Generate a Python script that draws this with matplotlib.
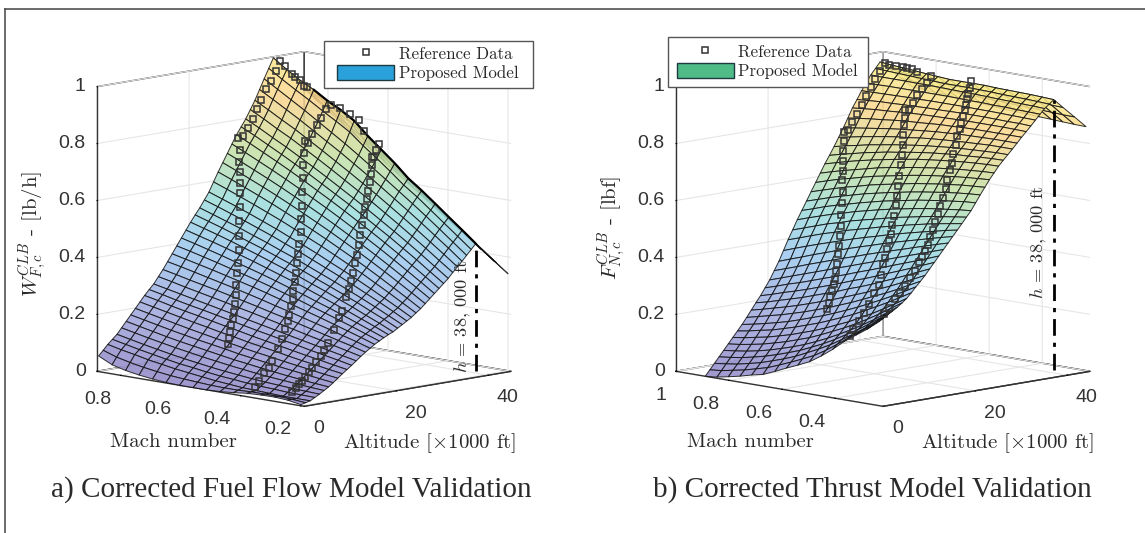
import numpy as np
import matplotlib
matplotlib.use("Agg")
import matplotlib.pyplot as plt
from matplotlib.colors import LinearSegmentedColormap
from matplotlib.lines import Line2D
from matplotlib.patches import Patch, Rectangle

plt.rcParams["mathtext.fontset"] = "cm"
plt.rcParams["font.family"] = ["Liberation Sans", "DejaVu Sans"]

W, H = 1145, 533

# 1) surface grids, shared altitude axis [x1000 ft]
alt_grid = [0, 1, 2, 3, 4, 5, 6, 7, 8, 9, 10, 11, 12, 13, 14, 15, 16, 17, 18, 19, 20,
            21, 22, 23, 24, 25, 26, 27, 28, 29, 30, 31, 32, 33, 34, 35, 36, 37, 38, 40, 42.5, 45]

# fuel flow surface: one row per altitude, one column per Mach
mach_a = [.2, .245, .29, .335, .38, .425, .47, .515, .56, .605, .65, .695, .74, .785, .83, .875]
fuel = [
    [.004, .012, .015, .014, .012, .006, .002, 0, 0, 0, .002, .006, .012, .02, .032, .055],
    [.008, .012, .014, .014, .014, .012, .012, .013, .016, .019, .023, .029, .036, .045, .056, .072],
    [.012, .012, .012, .014, .016, .018, .022, .026, .032, .038, .044, .052, .060, .070, .079, .090],
    [.021, .022, .023, .026, .028, .031, .036, .040, .046, .053, .059, .067, .076, .085, .095, .105],
    [.030, .032, .034, .037, .040, .044, .049, .054, .060, .067, .074, .082, .091, .100, .110, .120],
    [.040, .043, .047, .051, .055, .060, .066, .072, .079, .086, .094, .102, .111, .120, .130, .140],
    [.050, .054, .059, .064, .070, .076, .083, .089, .097, .105, .113, .121, .130, .140, .150, .160],
    [.062, .068, .074, .080, .086, .093, .100, .107, .116, .124, .132, .141, .150, .160, .170, .180],
    [.075, .081, .088, .095, .102, .110, .117, .125, .134, .142, .151, .160, .170, .180, .190, .200],
    [.088, .095, .103, .110, .118, .127, .135, .143, .153, .161, .171, .180, .190, .200, .210, .220],
    [.100, .108, .117, .125, .134, .143, .152, .161, .171, .180, .190, .200, .209, .219, .230, .240],
    [.112, .122, .131, .140, .150, .159, .169, .178, .188, .198, .208, .218, .227, .237, .248, .258],
    [.125, .135, .145, .155, .165, .175, .185, .195, .205, .215, .225, .235, .245, .255, .265, .275],
    [.138, .149, .160, .171, .182, .193, .204, .215, .226, .236, .247, .257, .267, .277, .288, .298],
    [.150, .163, .175, .187, .199, .211, .223, .234, .246, .257, .268, .279, .289, .299, .310, .320],
    [.161, .176, .189, .203, .216, .229, .242, .254, .267, .279, .291, .302, .313, .324, .335, .345],
    [.172, .188, .203, .218, .233, .247, .261, .274, .288, .301, .313, .325, .337, .348, .359, .370],
    [.181, .198, .215, .231, .247, .262, .278, .292, .307, .321, .334, .347, .360, .372, .384, .395],
    [.190, .208, .226, .244, .261, .277, .294, .309, .325, .340, .354, .368, .382, .395, .408, .420],
    [.198, .218, .237, .256, .274, .292, .310, .327, .343, .359, .375, .390, .405, .419, .432, .445],
    [.205, .227, .247, .268, .287, .307, .325, .344, .361, .378, .395, .411, .427, .442, .456, .470],
    [.215, .238, .259, .281, .301, .321, .340, .360, .378, .396, .414, .430, .447, .463, .478, .493],
    [.225, .248, .271, .293, .314, .335, .355, .375, .395, .413, .432, .449, .467, .483, .499, .515],
    [.235, .260, .284, .307, .330, .352, .373, .394, .415, .434, .454, .472, .490, .507, .524, .540],
    [.245, .271, .296, .321, .345, .368, .390, .413, .434, .454, .475, .494, .513, .531, .548, .565],
    [.258, .285, .312, .338, .364, .388, .412, .436, .458, .480, .502, .522, .542, .561, .580, .598],
    [.270, .299, .327, .355, .382, .408, .433, .458, .482, .505, .528, .550, .571, .591, .611, .630],
    [.285, .315, .344, .373, .401, .428, .454, .480, .505, .529, .553, .576, .598, .619, .640, .660],
    [.300, .331, .361, .391, .420, .448, .475, .502, .528, .553, .578, .602, .625, .647, .669, .690],
    [.315, .347, .378, .409, .439, .468, .496, .524, .551, .577, .603, .628, .652, .675, .698, .720],
    [.330, .363, .395, .427, .458, .488, .517, .546, .574, .601, .628, .654, .679, .703, .727, .750],
    [.345, .378, .412, .444, .476, .506, .536, .566, .594, .622, .650, .676, .702, .727, .752, .775],
    [.360, .394, .428, .461, .493, .524, .555, .585, .614, .643, .671, .698, .725, .750, .776, .800],
    [.378, .412, .447, .481, .514, .546, .578, .608, .638, .668, .697, .725, .753, .778, .805, .830],
    [.395, .431, .466, .501, .535, .568, .601, .632, .663, .693, .723, .752, .781, .807, .834, .860],
    [.412, .450, .486, .522, .557, .591, .625, .658, .690, .722, .752, .782, .812, .840, .868, .895],
    [.430, .468, .506, .543, .579, .614, .649, .683, .717, .750, .781, .812, .843, .872, .901, .930],
    [.448, .486, .524, .562, .600, .634, .674, .712, .748, .788, .818, .846, .876, .904, .933, .964],
    [.466, .505, .543, .582, .620, .655, .700, .740, .780, .825, .855, .880, .910, .935, .965, .998],
    [.430, .468, .505, .543, .580, .615, .657, .696, .735, .777, .808, .836, .867, .895, .927, .960],
    [.386, .422, .458, .495, .531, .566, .604, .641, .678, .716, .750, .781, .814, .846, .879, .913],
    [.341, .376, .411, .446, .481, .516, .551, .586, .621, .656, .691, .726, .761, .796, .831, .866],
]

# thrust surface
mach_b = [.235, .279, .322, .366, .41, .453, .497, .541, .584, .628, .672, .715, .759, .803, .846, .89]
thrust = [
    [.295, .262, .234, .205, .170, .140, .113, .094, .077, .058, .041, .032, .021, .012, .004, 0],
    [.305, .272, .244, .215, .185, .157, .132, .113, .095, .078, .062, .051, .040, .032, .024, .020],
    [.315, .283, .253, .225, .199, .174, .152, .132, .113, .097, .083, .070, .060, .051, .045, .040],
    [.325, .294, .266, .238, .214, .190, .168, .149, .131, .116, .102, .090, .080, .071, .065, .060],
    [.335, .306, .278, .252, .228, .206, .185, .166, .149, .134, .121, .109, .099, .091, .085, .080],
    [.347, .320, .294, .269, .246, .225, .206, .187, .170, .156, .142, .131, .120, .112, .105, .100],
    [.360, .334, .310, .286, .265, .244, .226, .208, .192, .178, .164, .153, .142, .134, .126, .120],
    [.377, .353, .330, .308, .287, .267, .249, .232, .216, .202, .188, .176, .164, .156, .147, .140],
    [.395, .372, .350, .329, .309, .290, .272, .255, .239, .225, .211, .198, .187, .177, .168, .160],
    [.412, .391, .370, .350, .332, .314, .296, .280, .264, .250, .236, .224, .212, .202, .192, .182],
    [.430, .410, .391, .372, .354, .337, .321, .305, .290, .276, .262, .249, .237, .226, .215, .205],
    [.450, .432, .414, .396, .379, .362, .346, .332, .316, .302, .288, .274, .262, .250, .238, .228],
    [.470, .453, .436, .420, .404, .388, .372, .358, .343, .328, .314, .300, .287, .275, .262, .250],
    [.490, .474, .459, .444, .429, .414, .399, .385, .370, .356, .342, .328, .314, .302, .288, .275],
    [.510, .496, .482, .468, .454, .440, .426, .412, .398, .384, .370, .356, .342, .328, .314, .300],
    [.530, .518, .506, .493, .480, .468, .455, .442, .428, .415, .401, .387, .373, .358, .344, .330],
    [.550, .540, .529, .518, .507, .496, .484, .471, .459, .446, .432, .418, .404, .389, .375, .360],
    [.570, .562, .552, .543, .533, .523, .512, .500, .489, .477, .464, .451, .438, .424, .410, .395],
    [.590, .583, .576, .568, .559, .550, .540, .530, .519, .508, .497, .484, .472, .458, .444, .430],
    [.610, .604, .598, .592, .584, .576, .568, .558, .548, .538, .528, .515, .504, .490, .476, .462],
    [.630, .626, .621, .616, .610, .603, .595, .587, .578, .568, .558, .546, .535, .522, .509, .495],
    [.655, .652, .647, .642, .636, .630, .622, .614, .606, .596, .586, .575, .564, .552, .538, .525],
    [.680, .677, .673, .668, .662, .656, .649, .641, .633, .624, .615, .604, .593, .581, .568, .555],
    [.704, .701, .698, .693, .688, .682, .676, .668, .660, .652, .643, .632, .622, .610, .598, .585],
    [.728, .725, .722, .718, .713, .708, .702, .695, .687, .679, .671, .661, .650, .640, .628, .615],
    [.749, .747, .744, .741, .736, .732, .726, .720, .713, .706, .698, .688, .678, .668, .657, .645],
    [.770, .769, .767, .764, .760, .756, .751, .746, .739, .732, .724, .716, .707, .697, .686, .675],
    [.788, .787, .785, .782, .780, .776, .772, .767, .761, .754, .748, .740, .732, .722, .713, .702],
    [.805, .805, .803, .801, .799, .796, .792, .788, .783, .777, .771, .764, .757, .748, .740, .730],
    [.822, .822, .822, .820, .818, .816, .813, .810, .806, .800, .796, .790, .783, .776, .768, .760],
    [.840, .840, .840, .839, .838, .837, .834, .832, .828, .824, .820, .815, .809, .803, .797, .790],
    [.858, .858, .858, .858, .858, .857, .855, .854, .851, .848, .846, .842, .837, .833, .828, .822],
    [.875, .876, .877, .877, .877, .877, .876, .875, .874, .873, .871, .868, .865, .863, .859, .855],
    [.892, .894, .894, .895, .896, .896, .896, .895, .894, .894, .892, .891, .889, .888, .885, .882],
    [.910, .911, .912, .913, .914, .914, .915, .915, .915, .915, .914, .914, .913, .912, .911, .910],
    [.928, .929, .930, .932, .932, .934, .934, .935, .936, .936, .936, .936, .936, .936, .935, .935],
    [.945, .947, .948, .950, .951, .953, .954, .955, .956, .957, .958, .958, .959, .959, .959, .960],
    [.958, .960, .962, .963, .964, .966, .967, .968, .968, .968, .970, .972, .974, .976, .978, .980],
    [.971, .973, .975, .976, .977, .978, .980, .980, .980, .980, .983, .986, .990, .993, .996, 1.0],
    [.938, .940, .942, .943, .945, .946, .948, .949, .949, .950, .953, .956, .960, .963, .966, .970],
    [.898, .899, .901, .903, .904, .906, .908, .909, .911, .913, .916, .919, .922, .925, .928, .932],
    [.857, .858, .860, .862, .864, .866, .868, .870, .873, .876, .879, .882, .885, .888, .891, .894],
]

# 2) reference data, climb paths (altitude, Mach, value)
fuel_alt1 = [8, 9, 10, 11, 12, 13, 14, 15, 16, 17, 18, 19, 20, 21, 22, 23, 24, 25, 26, 27, 28, 30, 31, 32, 33, 33.9, 35, 36, 37.1, 38]
fuel_mach1 = [.567, .578, .59, .602, .612, .623, .636, .648, .662, .674, .686, .699, .713, .729, .742, .757, .772, .788, .805, .819, .839, .852, .852, .852, .852, .852, .852, .852, .852, .852]
fuel_val1 = [.131, .147, .162, .181, .2, .218, .24, .267, .297, .334, .367, .408, .45, .497, .542, .586, .616, .647, .678, .716, .751, .749, .775, .804, .837, .867, .901, .925, .958, .99]

fuel_alt2 = [3, 4, 5, 6, 7, 8, 9, 10, 11, 12, 13, 14, 15, 16, 17, 18, 19.4, 20.8, 22.2, 23.6, 25, 26.4, 27.8, 29.2, 30.6, 32, 33, 33.9, 34.9, 35.9, 36.9, 38]
fuel_mach2 = [.399, .403, .40, .40, .403, .401, .403, .408, .412, .424, .432, .443, .456, .466, .478, .491, .507, .525, .541, .561, .579, .601, .621, .64, .659, .679, .683, .683, .683, .683, .683, .683]
fuel_val2 = [.024, .04, .067, .082, .102, .141, .173, .204, .23, .248, .273, .295, .316, .343, .372, .399, .424, .454, .49, .528, .565, .608, .65, .686, .721, .758, .748, .777, .804, .828, .854, .868]

fuel_alt3 = [3, 4.1, 5.2, 6.3, 7.4, 8.5, 9.6, 10.7, 11.8, 12.9, 14, 15.1, 16.2, 17.3, 18.4, 19.5, 20.6, 21.7, 22.8, 23.9, 25, 26.1, 27.2, 28.3, 29.4, 30.5, 31.6, 32.7, 33.8, 34.9, 36, 37, 37.4, 38]
fuel_mach3 = [.275, .28, .285, .293, .299, .305, .31, .313, .315, .321, .326, .322, .322, .328, .332, .339, .349, .361, .369, .38, .391, .403, .414, .425, .436, .447, .46, .473, .486, .5, .514, .523, .523, .523]
fuel_val3 = [.027, .036, .046, .055, .065, .076, .088, .105, .122, .141, .161, .202, .244, .263, .309, .331, .355, .379, .408, .434, .462, .492, .522, .552, .577, .60, .622, .647, .672, .698, .72, .714, .74, .759]

# cruise points on the 38,000 ft ridge
fuel_alt4 = [38, 38, 38, 38, 38, 38, 38, 38, 38, 38]
fuel_mach4 = [.837, .814, .803, .785, .772, .763, .654, .619, .59, .573]
fuel_val4 = [.975, .954, .944, .938, .919, .916, .862, .845, .83, .794]

thrust_alt1 = [9, 10, 11, 12, 13, 14, 15, 16, 17, 18, 19, 20, 21, 22, 23, 24, 25, 26, 27, 28, 29, 30, 31, 32, 33, 34, 35, 36, 37, 38]
thrust_mach1 = [.587, .598, .609, .62, .631, .645, .658, .67, .685, .699, .712, .725, .741, .756, .771, .789, .804, .82, .837, .852, .869, .873, .873, .873, .873, .873, .873, .873, .873, .873]
thrust_val1 = [.258, .277, .294, .309, .328, .343, .365, .387, .414, .438, .468, .499, .534, .57, .602, .638, .665, .695, .725, .755, .782, .787, .812, .838, .867, .895, .924, .949, .975, 1.0]

thrust_alt2 = [3, 4, 5, 6, 7, 8, 9, 10, 11, 12, 13.3, 14.6, 15.9, 17.2, 18.5, 19.8, 21.1, 22.4, 23.7, 25, 26.3, 27.6, 28.9, 30.2, 31.5, 32.5, 33.1, 34.1, 35, 36, 37.1, 38]
thrust_mach2 = [.396, .401, .399, .396, .395, .392, .392, .401, .409, .419, .434, .45, .465, .483, .498, .516, .532, .551, .569, .587, .605, .623, .644, .664, .683, .70, .697, .697, .697, .697, .697, .697]
thrust_val2 = [.211, .231, .258, .285, .311, .35, .376, .407, .439, .458, .481, .505, .524, .547, .573, .605, .631, .66, .688, .72, .749, .78, .809, .834, .854, .878, .876, .898, .921, .941, .959, .98]

thrust_alt3 = [3, 4.1, 5.2, 6.3, 7.4, 8.5, 9.6, 10.7, 11.8, 12.9, 14, 15.1, 16.2, 17.3, 18.4, 19.5, 20.6, 21.7, 22.8, 23.9, 25, 26.1, 27.2, 28.3, 29.4, 30.5, 31.6, 32.7, 33.8, 34.9, 36, 37, 38]
thrust_mach3 = [.267, .268, .266, .265, .264, .264, .264, .27, .276, .286, .295, .305, .313, .323, .332, .342, .351, .36, .374, .381, .395, .407, .417, .43, .438, .453, .466, .479, .495, .508, .523, .534, .548]
thrust_val3 = [.307, .327, .354, .375, .395, .421, .442, .471, .484, .499, .515, .541, .562, .583, .606, .631, .655, .682, .71, .738, .759, .786, .811, .838, .861, .875, .894, .909, .924, .939, .952, .968, .986]

thrust_alt4 = [38, 38, 38, 38, 38, 38]
thrust_mach4 = [.856, .83, .803, .789, .769, .75]
thrust_val4 = [.996, .994, .995, .995, .995, .986]

# 3) ticks and text
alt_ticks = [0, 20, 40]
alt_labels = ["0", "20", "40"]
z_ticks = [0, .2, .4, .6, .8, 1]
z_labels = ["0", "0.2", "0.4", "0.6", "0.8", "1"]
mach_ticks_a = [.2, .4, .6, .8]
mach_labels_a = ["0.2", "0.4", "0.6", "0.8"]
mach_ticks_b = [.4, .6, .8, 1]
mach_labels_b = ["0.4", "0.6", "0.8", "1"]
ridge_alt = 38

cmap = LinearSegmentedColormap.from_list("pastel", [
    (0.00, "#9189c8"), (0.18, "#a0a8dc"), (0.38, "#9cc8ee"), (0.52, "#9cdcdc"),
    (0.68, "#c4e0a4"), (0.85, "#fbd68e"), (1.00, "#f8f08c")])
DARK = "#333333"


def draw_panel(left_px, mach, table, ticks, ticklabels, mach_lim, paths, cruise, ridge_mach, ridge_val, dark_to):
    # square axes placed in pixels so the box corners land where they should
    ax = fig.add_axes([left_px / W, 52.4 / H, 490 / W, 490 / H], projection="3d",
                      proj_type="ortho", computed_zorder=False)
    ax.patch.set_alpha(0)
    ax.view_init(elev=9.73, azim=-135)
    ax.set_box_aspect((1, 1, 0.987))

    A, M = np.meshgrid(alt_grid, mach, indexing="ij")
    Z = np.array(table)
    ax.plot_surface(A, M, Z, facecolors=cmap(np.clip(Z, 0, 1)), shade=False, alpha=0.86,
                    edgecolor="#111111", linewidth=0.7, rcount=50, ccount=50, zorder=1)

    # the fold at the ridge reads as a heavy line where the far side is edge-on
    r = alt_grid.index(ridge_alt)
    ax.plot([ridge_alt] * dark_to, mach[:dark_to], table[r][:dark_to], color="k", lw=1.6, zorder=3)

    for a, m, v in paths + [cruise]:
        ax.plot(a, m, v, "s", ms=4.6, mfc="none", mec=DARK, mew=1.1, zorder=5)

    ax.plot([ridge_alt, ridge_alt], [ridge_mach, ridge_mach], [0.02, ridge_val], color="k",
            ls=(0, (6, 2.5, 1.5, 2.5)), lw=2, zorder=6)

    ax.set_xlim(0, 45)
    ax.set_ylim(*mach_lim)
    ax.set_zlim(0, 1)
    ax.set_xticks(alt_ticks)
    ax.set_xticklabels(alt_labels, fontsize=14, color=DARK, ha="left")
    ax.set_yticks(ticks)
    ax.set_yticklabels(ticklabels, fontsize=14, color=DARK, ha="right")
    ax.set_zticks(z_ticks)
    ax.set_zticklabels(z_labels, fontsize=14, color=DARK, va="center", ha="right")
    ax.tick_params(axis="x", pad=0)
    ax.tick_params(axis="y", pad=1)
    ax.tick_params(axis="z", pad=-3)

    for axis in (ax.xaxis, ax.yaxis, ax.zaxis):
        axis.set_pane_color((1, 1, 1, 1))
        axis.pane.set_edgecolor(DARK)
        axis.pane.set_linewidth(1.0)
        axis.line.set_color(DARK)
        axis.line.set_linewidth(1.0)
        axis._axinfo["grid"]["color"] = "#e6e6e6"
        axis._axinfo["grid"]["linewidth"] = 0.8
        axis._axinfo["tick"]["inward_factor"] = 0.03
        axis._axinfo["tick"]["outward_factor"] = 0.0
    ax.zaxis._axinfo["tick"]["inward_factor"] = 0.0
    ax.zaxis._axinfo["tick"]["outward_factor"] = 0.03
    return ax


fig = plt.figure(figsize=(W / 100, H / 100), dpi=100, facecolor="white")

draw_panel(52.4, mach_a, fuel, mach_ticks_a, mach_labels_a, (.19, .88),
           [(fuel_alt1, fuel_mach1, fuel_val1), (fuel_alt2, fuel_mach2, fuel_val2), (fuel_alt3, fuel_mach3, fuel_val3)],
           (fuel_alt4, fuel_mach4, fuel_val4), .2, fuel[38][0], 13)
draw_panel(631.4, mach_b, thrust, mach_ticks_b, mach_labels_b, (.22, 1.0),
           [(thrust_alt1, thrust_mach1, thrust_val1), (thrust_alt2, thrust_mach2, thrust_val2), (thrust_alt3, thrust_mach3, thrust_val3)],
           (thrust_alt4, thrust_mach4, thrust_val4), .235, thrust[38][0], 1)


def ftext(x, y, s, **kw):
    fig.text(x / W, 1 - y / H, s, ha="center", va="center", color="#2a2a2a", **kw)


cm = dict(family="cmr10", fontsize=15)
ftext(173, 442, "Mach number", **cm)
ftext(430, 443, r"Altitude [$\times$1000 ft]", **cm)
ftext(750, 442, "Mach number", **cm)
ftext(1008, 443, r"Altitude [$\times$1000 ft]", **cm)
ftext(33, 234, r"$W_{F,c}^{CLB}$ - [lb/h]", rotation=90, **cm)
ftext(612, 228, r"$F_{N,c}^{CLB}$ - [lbf]", rotation=90, **cm)
small = dict(family="cmr10", fontsize=13.2)
ftext(462, 316, r"$h$ = 38, 000 ft", rotation=90, **small)
ftext(1038, 242, r"$h$ = 38, 000 ft", rotation=90, **small)

serif = dict(family="Liberation Serif", fontsize=21)
ftext(291, 490, "a) Corrected Fuel Flow Model Validation", **serif)
ftext(872, 490, "b) Corrected Thrust Model Validation", **serif)


def add_legend(x0, y0, x1, y1, hx, hy, color):
    # frame drawn separately: the box has wider side margins than a legend's single pad
    fig.add_artist(Rectangle((x0 / W, 1 - y1 / H), (x1 - x0) / W, (y1 - y0) / H, transform=fig.transFigure,
                             facecolor="white", edgecolor="#555555", linewidth=1, zorder=3))
    handles = [Line2D([], [], ls="", marker="s", ms=4.6, mfc="none", mec=DARK, mew=1.1),
               Patch(facecolor=color, edgecolor="#1c3a40", linewidth=1)]
    leg = fig.legend(handles=handles, labels=["Reference Data", "Proposed Model"], loc="upper left",
                     bbox_to_anchor=(hx / W, 1 - hy / H), borderaxespad=0, borderpad=0, frameon=False,
                     handlelength=3.37, handleheight=1.0, labelspacing=0.2, handletextpad=0.27,
                     prop=dict(family="cmr10", size=12.2))
    for t in leg.get_texts():
        t.set_color("#2a2a2a")


add_legend(323.5, 41, 532.5, 87.5, 337, 45.3, "#2ba1dc")
add_legend(668, 37.5, 868, 87, 676.5, 43.3, "#4fbb87")

# page frame around the figure
fig.add_artist(Line2D([5 / W, 5 / W], [0, 1 - 9 / H], color="#444444", lw=1.1))
fig.add_artist(Line2D([5 / W, 1], [1 - 9 / H, 1 - 9 / H], color="#444444", lw=1.1))

fig.savefig("out.png", dpi=100)
